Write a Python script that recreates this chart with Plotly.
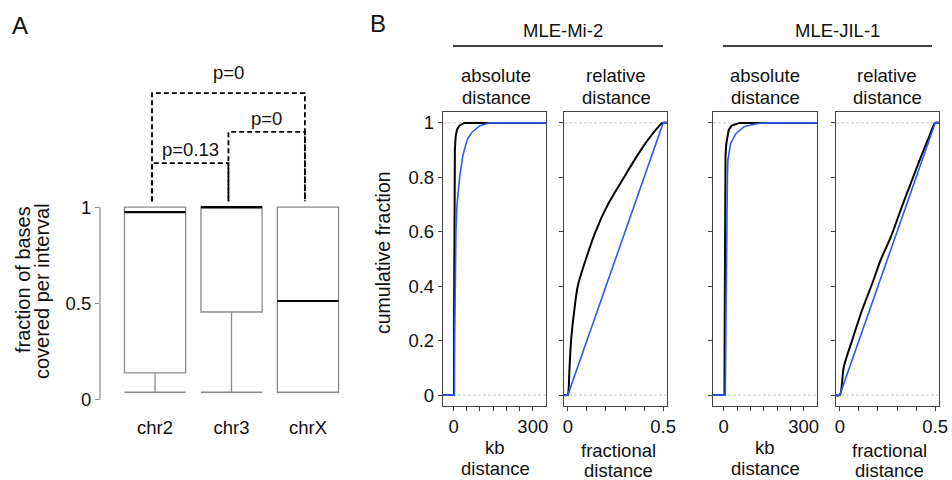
import plotly.graph_objects as go

# ---------------- data: panel A (box plot) ----------------
CATEGORIES = ["chr2", "chr3", "chrX"]
Q1 = [0.14, 0.456, 0.04]
MEDIAN = [0.974, 1.0, 0.513]
Q3 = [1.0, 1.0, 1.0]
LOWER_FENCE = [0.04, 0.04, 0.04]
UPPER_FENCE = [1.0, 1.0, 1.0]
A_YTICKS = [0, 0.5, 1]
A_YTICK_TEXT = ["0", "0.5", "1"]

COMPARISONS = [(0, 1), (1, 2), (0, 2)]
P_LABELS = ["p=0.13", "p=0", "p=0"]
BRACKET_HEIGHTS = [1.228, 1.389, 1.59]
BRACKET_BASE = 1.03

# ---------------- data: panel B (cumulative distributions) ----------------
B_YTICKS = [0, 0.2, 0.4, 0.6, 0.8, 1]
B_YTICK_TEXT = ["0", "0.2", "0.4", "0.6", "0.8", "1"]
ABS_XTICKS = [0, 50, 100, 150, 200, 250, 300]
ABS_XTICK_TEXT = ["0", "", "", "", "", "", "300"]
REL_XTICKS = [0, 0.1, 0.2, 0.3, 0.4, 0.5]
REL_XTICK_TEXT = ["0", "", "", "", "", "0.5"]

MI2_ABS_OBS_KB = [1.5, 2, 3, 5, 8, 13, 22, 40]
MI2_ABS_OBS_Y = [0, 0.3, 0.7, 0.9, 0.95, 0.975, 0.99, 1.0]
MI2_ABS_CTRL_KB = [3, 4, 6, 9, 13, 23, 35, 52, 69, 100, 135]
MI2_ABS_CTRL_Y = [0, 0.2, 0.4, 0.6, 0.7, 0.8, 0.88, 0.94, 0.965, 0.99, 1.0]

MI2_REL_OBS_X = [0, 0.004, 0.009, 0.017, 0.032, 0.052, 0.095, 0.145, 0.21, 0.295, 0.35, 0.42, 0.497]
MI2_REL_OBS_Y = [0, 0.02, 0.1, 0.2, 0.3, 0.4, 0.5, 0.6, 0.7, 0.8, 0.864, 0.9375, 1.0]
MI2_REL_CTRL_X = [0, 0.5]
MI2_REL_CTRL_Y = [0, 1.0]

JIL_ABS_OBS_KB = [3, 4, 5, 7, 10, 19, 30, 60]
JIL_ABS_OBS_Y = [0, 0.3, 0.7, 0.88, 0.925, 0.974, 0.99, 1.0]
JIL_ABS_CTRL_KB = [6, 8, 10, 12, 14, 16, 26, 47, 78, 129, 160]
JIL_ABS_CTRL_Y = [0, 0.2, 0.5, 0.7, 0.8, 0.864, 0.925, 0.962, 0.987, 0.998, 1.0]

JIL_REL_OBS_X = [0, 0.021, 0.065, 0.117, 0.17, 0.214, 0.267, 0.319, 0.372, 0.425, 0.468, 0.5]
JIL_REL_OBS_Y = [0, 0.104, 0.202, 0.3125, 0.41, 0.496, 0.58, 0.68, 0.778, 0.875, 0.949, 1.0]
JIL_REL_CTRL_X = [0, 0.5]
JIL_REL_CTRL_Y = [0, 1.0]

# ---------------- layout helpers ----------------
W, H = 952, 480
FONT = "Liberation Sans, Arial, Helvetica, sans-serif"
TXT = "#111111"
GRAY = "#8a8a8a"
BLUE = "#2f5cf0"
FS = 18.5


def px(x):
    return x / W


def py(y):
    return 1 - y / H


ABS_RANGE = [-40, 350]
REL_RANGE = [-0.02, 0.52]
B_YRANGE = [-0.04, 1.04]

fig = go.Figure()

# ---------------- panel A ----------------
cat_pos = list(range(len(CATEGORIES)))
BOX_W = 0.8
fig.add_trace(go.Box(
    x=cat_pos, q1=Q1, median=MEDIAN, q3=Q3,
    lowerfence=LOWER_FENCE, upperfence=UPPER_FENCE,
    width=BOX_W, whiskerwidth=1, boxpoints=False,
    line=dict(color=GRAY, width=1.3), fillcolor="white",
    xaxis="x", yaxis="y", showlegend=False, hoverinfo="skip",
))
for i, m in zip(cat_pos, MEDIAN):
    fig.add_trace(go.Scatter(
        x=[i - BOX_W / 2, i + BOX_W / 2], y=[m, m], mode="lines",
        line=dict(color="black", width=2.2), xaxis="x", yaxis="y",
        showlegend=False, hoverinfo="skip"))

BR_OFF = -0.04
for (a, b), h, lab, ysh in zip(COMPARISONS, BRACKET_HEIGHTS, P_LABELS, [1, 1, 8]):
    xa, xb = a + BR_OFF, b + BR_OFF
    fig.add_trace(go.Scatter(
        x=[xa, xa, xb, xb], y=[BRACKET_BASE, h, h, BRACKET_BASE], mode="lines",
        line=dict(color="black", width=1.8, dash="5px,3px"),
        xaxis="x", yaxis="y", showlegend=False, hoverinfo="skip"))
    fig.add_annotation(x=(xa + xb) / 2, y=h, xref="x", yref="y", text=lab,
                       showarrow=False, yanchor="bottom", yshift=ysh,
                       font=dict(size=FS, color=TXT, family=FONT))

# ---------------- panel B ----------------
panels = [
    ("x2", "y2", ABS_RANGE, MI2_ABS_OBS_KB, MI2_ABS_OBS_Y, MI2_ABS_CTRL_KB, MI2_ABS_CTRL_Y),
    ("x3", "y3", REL_RANGE, MI2_REL_OBS_X, MI2_REL_OBS_Y, MI2_REL_CTRL_X, MI2_REL_CTRL_Y),
    ("x4", "y4", ABS_RANGE, JIL_ABS_OBS_KB, JIL_ABS_OBS_Y, JIL_ABS_CTRL_KB, JIL_ABS_CTRL_Y),
    ("x5", "y5", REL_RANGE, JIL_REL_OBS_X, JIL_REL_OBS_Y, JIL_REL_CTRL_X, JIL_REL_CTRL_Y),
]
for xa, ya, rng, ox, oy, cx, cy in panels:
    is_rel = rng == REL_RANGE
    fig.add_trace(go.Scatter(
        x=[rng[0]] + ox + [rng[1]], y=[oy[0]] + oy + [oy[-1]], mode="lines",
        line=dict(color="black", width=2, shape="spline" if is_rel else "linear",
                  smoothing=0.8),
        xaxis=xa, yaxis=ya, showlegend=False, hoverinfo="skip"))
    fig.add_trace(go.Scatter(
        x=[rng[0]] + cx + [rng[1]], y=[cy[0]] + cy + [cy[-1]], mode="lines",
        line=dict(color=BLUE, width=1.6), xaxis=xa, yaxis=ya,
        showlegend=False, hoverinfo="skip"))
    for yv in (0, 1):
        fig.add_shape(type="line", xref=f"{xa} domain", yref=ya, x0=0, x1=1,
                      y0=yv, y1=yv, layer="below",
                      line=dict(color="#b5b5b5", width=0.8, dash="3px,2px"))

fig.add_shape(type="line", xref="x domain", yref="y", x0=0, x1=0, y0=0, y1=1,
              line=dict(color=GRAY, width=1.2))

# header underlines
for x0, x1 in [(453, 663), (723, 932)]:
    fig.add_shape(type="line", xref="paper", yref="paper", x0=px(x0), x1=px(x1),
                  y0=py(46), y1=py(46), line=dict(color="black", width=1.5))

tick_font = dict(size=FS, color=TXT, family=FONT)
axis_common = dict(showgrid=False, zeroline=False, tickfont=tick_font, automargin=False)

layout_axes = dict(
    xaxis=dict(domain=[px(100), px(350)], range=[-0.72, 2.55], anchor="y",
               tickvals=cat_pos, ticktext=CATEGORIES, ticks="", showline=False,
               ticklabelstandoff=9, **axis_common),
    yaxis=dict(domain=[py(405), py(60)], range=[-0.026, 1.762], anchor="x",
               tickvals=A_YTICKS, ticktext=A_YTICK_TEXT, ticks="outside", ticklen=4,
               tickcolor=GRAY, showline=False, **axis_common),
)
b_x_domains = [(443, 546), (564, 667), (713, 817), (836, 939)]
for k, ((x0, x1), (xa, ya, rng, *_)) in enumerate(zip(b_x_domains, panels)):
    n = k + 2
    is_abs = rng == ABS_RANGE
    layout_axes[f"xaxis{n}"] = dict(
        domain=[px(x0), px(x1)], range=rng, anchor=ya,
        tickvals=ABS_XTICKS if is_abs else REL_XTICKS,
        ticktext=ABS_XTICK_TEXT if is_abs else REL_XTICK_TEXT,
        ticks="outside", ticklen=4, tickcolor="#444", showline=True, mirror=True,
        linecolor="#444", linewidth=1.2, **axis_common)
    layout_axes[f"yaxis{n}"] = dict(
        domain=[py(406), py(112)], range=B_YRANGE, anchor=xa,
        tickvals=B_YTICKS, ticktext=B_YTICK_TEXT, showticklabels=(n == 2),
        ticks="outside", ticklen=4, tickcolor="#444", showline=True, mirror=True,
        linecolor="#444", linewidth=1.2, **axis_common)

fig.update_layout(**layout_axes)


def label(x, y, text, size=FS, angle=0, xanchor="center"):
    fig.add_annotation(x=px(x), y=py(y), xref="paper", yref="paper", text=text,
                       showarrow=False, textangle=angle, xanchor=xanchor, yanchor="middle",
                       font=dict(size=size, color=TXT, family=FONT))


label(20, 25, "A", size=24)
label(378, 23, "B", size=24)
label(23, 280, "fraction of bases", size=20, angle=-90)
label(42, 291, "covered per interval", size=20, angle=-90)
label(383, 253, "cumulative fraction", size=19.5, angle=-90)

label(563, 30, "MLE-Mi-2")
label(837, 30, "MLE-JIL-1")
for cx, top in [(496, "absolute"), (616, "relative"), (765, "absolute"), (887, "relative")]:
    label(cx, 75, top)
    label(cx, 97, "distance")
for cx, top, y1, y2 in [(495, "kb", 447, 468), (618, "fractional", 450, 470),
                        (765, "kb", 447, 468), (889, "fractional", 450, 470)]:
    label(cx, y1, top)
    label(cx, y2, "distance")

fig.update_layout(
    template="none",
    width=W, height=H, margin=dict(l=0, r=0, t=0, b=0, pad=0, autoexpand=False),
    paper_bgcolor="white", plot_bgcolor="white",
    font=dict(family=FONT, color=TXT, size=FS), showlegend=False,
)

fig.write_html(
    "out.html",
    config={"displayModeBar": False, "staticPlot": True},
    post_script="document.body.style.margin='0';document.body.style.overflow='hidden';",
)
